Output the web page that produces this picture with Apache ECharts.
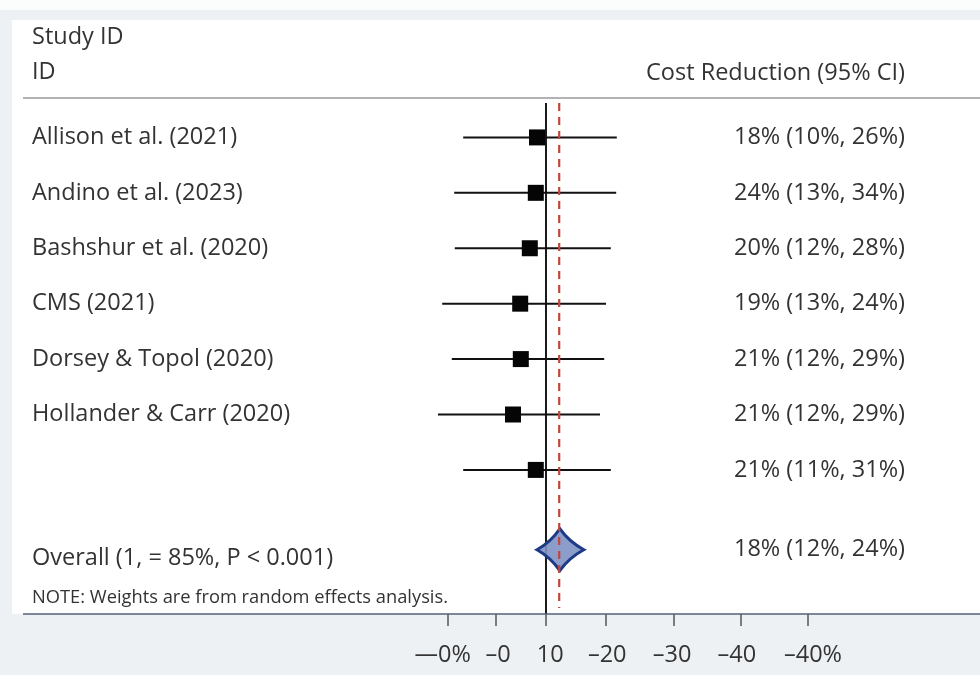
<!DOCTYPE html>
<html>
<head>
<meta charset="utf-8">
<script src="https://cdn.jsdelivr.net/npm/echarts@6/dist/echarts.min.js"></script>
<style>
  html, body { margin: 0; padding: 0; background: #eef1f3; }
  #chart { width: 980px; height: 675px; }
</style>
</head>
<body>
<div id="chart"></div>
<script>
// study rows
let studyNames = ['Allison et al. (2021)', 'Andino et al. (2023)', 'Bashshur et al. (2020)', 'CMS (2021)',
  'Dorsey & Topol (2020)', 'Hollander & Carr (2020)', ''];
let ciText = ['18% (10%, 26%)', '24% (13%, 34%)', '20% (12%, 28%)', '19% (13%, 24%)',
  '21% (12%, 29%)', '21% (12%, 29%)', '21% (11%, 31%)'];
let rowPos = [1, 2, 3, 4, 5, 6, 7];
let estimate = [-1.5, -1.7, -2.7, -4.3, -4.2, -5.5, -1.7];
let lower = [-13.8, -15.3, -15.2, -17.3, -15.7, -18, -13.8];
let upper = [11.8, 11.7, 10.8, 10, 9.7, 9, 10.8];

// pooled row
let overallName = 'Overall (1, = 85%, P < 0.001)';
let overallText = '18% (12%, 24%)';
let overallRow = 8.44;
let overallEst = 2.3;
let overallLow = -1.5;
let overallHigh = 6.3;

// reference lines
let nullLine = 0;
let pooledLine = 2.2;

// x axis ticks and labels (as printed, labels sit a bit off their ticks)
let tickValues = [-16.3, -8.3, 0, 10, 21.3, 32.5, 43.6];
let labelValues = [-17.2, -8, 0.7, 10.2, 21, 31.8, 44.5];
let tickLabels = ['\u20140%', '\u20130', '10', '\u201320', '\u201330', '\u201340', '\u201340%'];

let leftLabels = studyNames.concat([overallName]);
let rightLabels = ciText.concat([overallText]);
let allRows = rowPos.concat([overallRow]);

let font = '"Open Sans", "Noto Sans", sans-serif';
let txt = '#333333';
let fs = 23.5;

let myChart = echarts.init(document.getElementById('chart'));

let options = {
  backgroundColor: '#eef1f3',
  animation: false,
  textStyle: { fontFamily: font },
  graphic: [
    { type: 'rect', z: -10, shape: { x: 0, y: 0, width: 980, height: 10 }, style: { fill: '#fbfcfc' } },
    { type: 'rect', z: -10, shape: { x: 12, y: 20, width: 968, height: 594 }, style: { fill: '#ffffff' } },
    { type: 'line', shape: { x1: 23, y1: 98, x2: 980, y2: 98 }, style: { stroke: '#9a9a9a', lineWidth: 1.5 } },
    { type: 'line', z: 5, shape: { x1: 23, y1: 614, x2: 980, y2: 614 }, style: { stroke: '#55607a', lineWidth: 1.5 } },
    { type: 'text', left: 32, top: 25, style: { text: 'Study ID', font: fs + 'px ' + font, fill: txt } },
    { type: 'text', left: 32, top: 60, style: { text: 'ID', font: fs + 'px ' + font, fill: txt } },
    { type: 'text', right: 75, top: 61, style: { text: 'Cost Reduction (95% CI)', font: fs + 'px ' + font, fill: txt } },
    { type: 'text', left: 32, top: 589, style: { text: 'NOTE: Weights are from random effects analysis.', font: '18.3px ' + font, fill: txt } }
  ],
  grid: { left: 426, right: 134, top: 82, bottom: 61 },
  xAxis: {
    type: 'value', min: -20, max: 50, position: 'bottom',
    axisLine: { show: false, onZero: false },
    splitLine: { show: false },
    axisTick: { show: true, customValues: tickValues, length: 12, lineStyle: { color: '#555', width: 1.5 } },
    axisLabel: {
      customValues: labelValues, margin: 29, fontSize: fs, color: txt,
      formatter: (v) => tickLabels[labelValues.indexOf(v)]
    }
  },
  yAxis: [
    {
      type: 'value', inverse: true, min: 0, max: 9.6, position: 'left',
      axisLine: { show: false }, axisTick: { show: false }, splitLine: { show: false },
      axisLabel: {
        customValues: allRows, align: 'left', margin: 394, fontSize: fs, color: txt,
        formatter: (v) => {
          let i = allRows.indexOf(v);
          return v === overallRow ? '{ov|' + leftLabels[i] + '}' : leftLabels[i];
        },
        rich: { ov: { fontSize: fs, color: txt, padding: [18, 0, 0, 0] } }
      }
    },
    {
      type: 'value', inverse: true, min: 0, max: 9.6, position: 'right',
      axisLine: { show: false }, axisTick: { show: false }, splitLine: { show: false },
      axisLabel: {
        customValues: allRows, align: 'right', margin: 59, fontSize: fs, color: txt,
        formatter: (v) => rightLabels[allRows.indexOf(v)]
      }
    }
  ],
  series: [
    {
      type: 'line', z: 2, symbol: 'none', silent: true,
      data: [[nullLine, 0.38], [nullLine, 9.6]],
      lineStyle: { color: '#1a1a1a', width: 2 }
    },
    {
      type: 'custom', z: 3,
      data: rowPos.map((r, i) => [lower[i], upper[i], r]),
      encode: { x: [0, 1], y: 2 },
      renderItem: (params, api) => {
        let a = api.coord([api.value(0), api.value(2)]);
        let b = api.coord([api.value(1), api.value(2)]);
        return { type: 'line', shape: { x1: a[0], y1: a[1], x2: b[0], y2: b[1] }, style: { stroke: '#111', lineWidth: 2 } };
      }
    },
    {
      type: 'scatter', z: 4, symbol: 'rect', symbolSize: 16,
      itemStyle: { color: '#050505', opacity: 1 },
      data: rowPos.map((r, i) => [estimate[i], r])
    },
    {
      type: 'custom', z: 5,
      data: [[overallLow, overallEst, overallHigh, overallRow]],
      encode: { x: [0, 2], y: 3 },
      renderItem: (params, api) => {
        let l = api.coord([api.value(0), api.value(3)]);
        let c = api.coord([api.value(1), api.value(3)]);
        let r = api.coord([api.value(2), api.value(3)]);
        let h = 21;
        let k = 0.38;
        let qx = (x) => (c[0] + (x - c[0]) * k).toFixed(1);
        let d = 'M' + c[0] + ',' + (c[1] - h) +
          ' Q' + qx(r[0]) + ',' + (c[1] - h * k) + ' ' + r[0] + ',' + c[1] +
          ' Q' + qx(r[0]) + ',' + (c[1] + h * k) + ' ' + c[0] + ',' + (c[1] + h) +
          ' Q' + qx(l[0]) + ',' + (c[1] + h * k) + ' ' + l[0] + ',' + c[1] +
          ' Q' + qx(l[0]) + ',' + (c[1] - h * k) + ' ' + c[0] + ',' + (c[1] - h) + ' Z';
        return {
          type: 'path',
          shape: { pathData: d },
          style: { fill: 'rgba(128,146,199,0.9)', stroke: '#1d3a86', lineWidth: 3 }
        };
      }
    },
    {
      type: 'line', z: 6, symbol: 'none', silent: true,
      data: [[pooledLine, 0.38], [pooledLine, 9.49]],
      lineStyle: { color: '#c0473a', width: 2.2, type: [8, 6] }
    }
  ]
};

myChart.setOption(options);
window.addEventListener('resize', () => myChart.resize());
</script>
</body>
</html>
